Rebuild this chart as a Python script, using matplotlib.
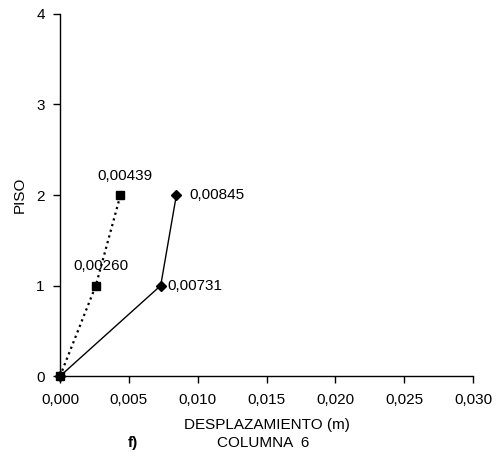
import matplotlib
matplotlib.use("Agg")
import matplotlib.pyplot as plt
from matplotlib.ticker import FuncFormatter

plt.rcParams['font.family'] = ['Liberation Sans', 'DejaVu Sans']

pisos = [0, 1, 2]
desp_a = [0.0, 0.00260, 0.00439]
desp_b = [0.0, 0.00731, 0.00845]
x_ticks = [0.0, 0.005, 0.010, 0.015, 0.020, 0.025, 0.030]
y_ticks = [0, 1, 2, 3, 4]

fig = plt.figure(figsize=(4.96, 4.61), dpi=100)
ax = fig.add_axes([0.121, 0.184, 0.833, 0.786])

ax.plot(desp_a, pisos, color='black', linestyle=':', linewidth=1.6,
        marker='s', markersize=6, clip_on=False)
ax.plot(desp_b, pisos, color='black', linestyle='-', linewidth=1.0,
        marker='D', markersize=5, clip_on=False)

fs = 11
ax.annotate('0,00439', (desp_a[2], pisos[2]), xytext=(3, 9),
            textcoords='offset points', ha='center', va='bottom', fontsize=fs)
ax.annotate('0,00260', (desp_a[1], pisos[1]), xytext=(4, 9),
            textcoords='offset points', ha='center', va='bottom', fontsize=fs)
ax.annotate('0,00845', (desp_b[2], pisos[2]), xytext=(9, 0),
            textcoords='offset points', ha='left', va='center', fontsize=fs)
ax.annotate('0,00731', (desp_b[1], pisos[1]), xytext=(5, 0),
            textcoords='offset points', ha='left', va='center', fontsize=fs)

ax.set_xlim(0, 0.030)
ax.set_ylim(0, 4)
ax.set_xticks(x_ticks)
ax.set_yticks(y_ticks)
ax.xaxis.set_major_formatter(FuncFormatter(lambda v, p: f"{v:.3f}".replace('.', ',')))
ax.tick_params(axis='both', direction='out', length=5, width=1, labelsize=fs, colors='black')
ax.tick_params(axis='x', pad=7)
ax.tick_params(axis='y', pad=6)

ax.spines['top'].set_visible(False)
ax.spines['right'].set_visible(False)
for s in ('left', 'bottom'):
    ax.spines[s].set_linewidth(1)

ax.set_xlabel('DESPLAZAMIENTO (m)', fontsize=fs, labelpad=8)
ax.set_ylabel('PISO', fontsize=fs, labelpad=7)

fig.text(133 / 496, 1 - 443 / 461, 'f)', fontsize=fs, fontweight='bold',
         ha='center', va='center')
fig.text(263 / 496, 1 - 443 / 461, 'COLUMNA  6', fontsize=fs,
         ha='center', va='center')

fig.savefig('out.png', dpi=100)
